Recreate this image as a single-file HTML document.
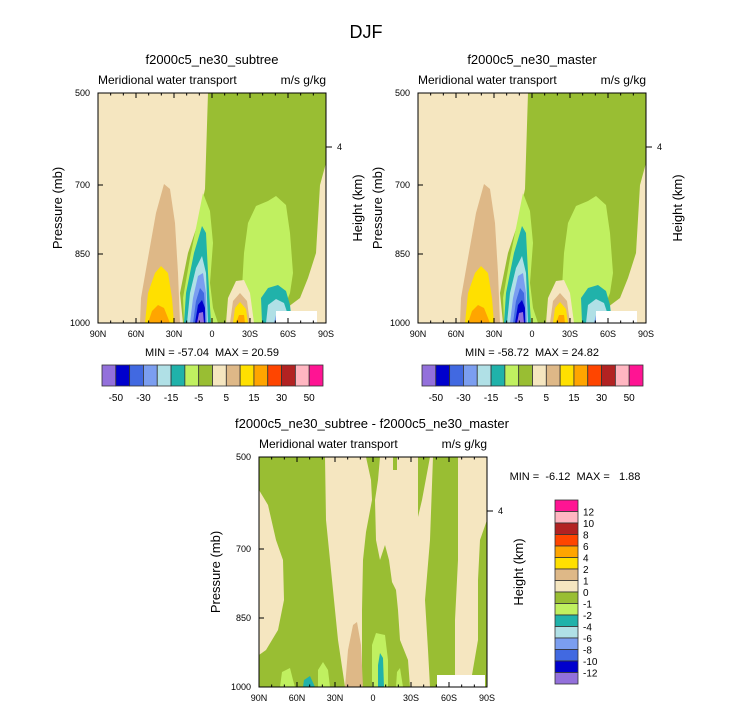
<!DOCTYPE html>
<html><head><meta charset="utf-8"><style>
html,body{margin:0;padding:0;background:#fff;}
svg{display:block;font-family:"Liberation Sans",Arial,sans-serif;}
</style></head><body>
<svg width="733" height="711" viewBox="0 0 733 711" xmlns="http://www.w3.org/2000/svg">
<defs>
<g id="top">
  <rect x="0" y="0" width="228" height="230" fill="#F5E6C0"/>
  <path d="M110,0 L228,0 L228,70 L222,92 L218,160 L210,185 L202,205 L190,214 L178,218 L178,230 L85,230 L82,200 L90,160 L100,130 L107,96 Z" fill="#99BE33"/>
  <path d="M105,100 L112,118 L115,150 L112,190 L115,215 L120,230 L86,230 L85,205 L92,165 L100,125 Z" fill="#C0F060"/>
  <path d="M150,130 L158,113 L170,108 L178,103 L188,112 L192,140 L195,180 L192,200 L186,215 L176,230 L148,230 L144,195 L146,160 Z" fill="#C0F060"/>
  <path d="M164,230 L163,205 L170,195 L180,192 L188,198 L192,212 L194,230 Z" fill="#20B2AA"/>
  <path d="M168,230 L170,212 L178,206 L186,210 L190,222 L190,230 Z" fill="#B0E0E6"/>
  <path d="M176,230 L178,222 L182,222 L182,230 Z" fill="#7B9EF0"/>
  <rect x="178" y="218" width="41" height="12" fill="#fff"/>
  <path d="M128,230 L130,205 L138,188 L146,187 L152,200 L156,230 Z" fill="#F5E6C0"/>
  <path d="M132,230 L135,208 L142,200 L149,208 L152,230 Z" fill="#DEB887"/>
  <path d="M135,230 L137,215 L142,209 L148,216 L150,230 Z" fill="#FFE000"/>
  <path d="M138,230 L141,222 L146,222 L147,230 Z" fill="#FFA500"/>
  <path d="M42,230 L43,205 L50,165 L58,120 L66,91 L72,96 L77,130 L80,180 L82,230 Z" fill="#DEB887"/>
  <path d="M47,230 L50,200 L57,180 L63,173 L70,180 L74,205 L76,230 Z" fill="#FFE000"/>
  <path d="M50,230 L54,218 L60,212 L66,215 L72,230 Z" fill="#FFA500"/>
  <path d="M86,230 L88,200 L96,160 L104,133 L108,140 L110,180 L113,230 Z" fill="#20B2AA"/>
  <path d="M89,230 L92,200 L98,175 L104,163 L108,180 L110,230 Z" fill="#B0E0E6"/>
  <path d="M92,230 L95,205 L100,183 L105,180 L108,200 L109,230 Z" fill="#7B9EF0"/>
  <path d="M95,230 L98,208 L102,195 L106,200 L108,230 Z" fill="#4169E1"/>
  <path d="M97,230 L100,212 L104,207 L107,215 L107,230 Z" fill="#0000CD"/>
  <path d="M99,230 L101,220 L105,219 L106,230 Z" fill="#9370DB"/>
  <rect x="0" y="0" width="228" height="230" fill="none" stroke="#000" stroke-width="1"/>
</g>
</defs>

<text x="366" y="38" font-size="18" text-anchor="middle">DJF</text>

<g transform="translate(98,93)"><use href="#top"/></g>
<g transform="translate(418,93)"><use href="#top"/></g>

<!-- bottom plot -->
<g>
  <rect x="259" y="457" width="228" height="230" fill="#99BE33"/>
  <path d="M259,490 L268,505 L276,540 L283,560 L284,600 L278,630 L266,650 L259,655 Z" fill="#F5E6C0"/>
  <path d="M325,457 L366,457 L371,480 L372,500 L366,532 L363,560 L362,610 L362,687 L345,687 L338,640 L330,560 L326,520 Z" fill="#F5E6C0"/>
  <path d="M380,457 L393,457 L393,470 L397,470 L397,457 L418,457 L418,517 L422,500 L430,457 L433,457 L430,540 L425,600 L428,650 L430,687 L410,687 L408,660 L400,640 L398,610 L396,590 L392,582 L389,560 L385,545 L380,560 L376,540 L375,500 L378,480 Z" fill="#F5E6C0"/>
  <path d="M458,457 L487,457 L487,520 L480,540 L478,580 L478,640 L472,675 L460,687 L455,687 L455,620 L458,560 Z" fill="#F5E6C0"/>
  <path d="M345,687 L348,650 L353,625 L357,622 L361,645 L363,687 Z" fill="#DEB887"/>
  <path d="M372,687 L372,645 L376,633 L385,635 L388,660 L388,687 Z" fill="#C0F060"/>
  <path d="M378,687 L378,665 L380,653 L383,658 L384,687 Z" fill="#20B2AA"/>
  <path d="M318,687 L318,670 L323,662 L328,670 L330,687 Z" fill="#C0F060"/>
  <path d="M303,687 L304,680 L310,676 L315,687 Z" fill="#20B2AA"/>
  <path d="M280,687 L282,672 L290,668 L293,680 L295,687 Z" fill="#C0F060"/>
  <path d="M396,687 L397,672 L400,668 L403,687 Z" fill="#C0F060"/>
  <rect x="437" y="675" width="48" height="12" fill="#fff"/>
  <rect x="259" y="457" width="228" height="230" fill="none" stroke="#000" stroke-width="1"/>
</g>

<g font-size="12" text-anchor="middle">
  <text x="212" y="64" font-size="13">f2000c5_ne30_subtree</text>
  <text x="532" y="64" font-size="13">f2000c5_ne30_master</text>
  <text x="372" y="428" font-size="13">f2000c5_ne30_subtree - f2000c5_ne30_master</text>
</g>
<g font-size="12">
  <text x="98" y="84">Meridional water transport</text>
  <text x="326" y="84" text-anchor="end">m/s g/kg</text>
  <text x="418" y="84">Meridional water transport</text>
  <text x="646" y="84" text-anchor="end">m/s g/kg</text>
  <text x="259" y="448">Meridional water transport</text>
  <text x="487" y="448" text-anchor="end">m/s g/kg</text>
</g>
<g font-size="13" text-anchor="middle">
  <text transform="translate(62,208) rotate(-90)">Pressure (mb)</text>
  <text transform="translate(362,208) rotate(-90)">Height (km)</text>
  <text transform="translate(382,208) rotate(-90)">Pressure (mb)</text>
  <text transform="translate(682,208) rotate(-90)">Height (km)</text>
  <text transform="translate(220,572) rotate(-90)">Pressure (mb)</text>
  <text transform="translate(523,572) rotate(-90)">Height (km)</text>
</g>

<g font-size="9" text-anchor="end">
  <text x="90" y="96">500</text><text x="90" y="188">700</text><text x="90" y="257">850</text><text x="90" y="326">1000</text>
  <text x="410" y="96">500</text><text x="410" y="188">700</text><text x="410" y="257">850</text><text x="410" y="326">1000</text>
  <text x="251" y="460">500</text><text x="251" y="552">700</text><text x="251" y="621">850</text><text x="251" y="690">1000</text>
</g>
<g font-size="9">
  <text x="337" y="150">4</text><text x="657" y="150">4</text><text x="498" y="514">4</text>
</g>
<g stroke="#000" stroke-width="1">
  <line x1="98" y1="185" x2="103" y2="185"/><line x1="98" y1="254" x2="103" y2="254"/>
  <line x1="418" y1="185" x2="423" y2="185"/><line x1="418" y1="254" x2="423" y2="254"/>
  <line x1="259" y1="549" x2="264" y2="549"/><line x1="259" y1="618" x2="264" y2="618"/>
  <line x1="326" y1="147" x2="332" y2="147"/><line x1="646" y1="147" x2="652" y2="147"/><line x1="487" y1="511" x2="493" y2="511"/>
</g>

<g id="xt" stroke="#000" stroke-width="1"></g>
<script>
(function(){
 var ns="http://www.w3.org/2000/svg",g=document.getElementById('xt');
 function ln(a,b,c,d){var l=document.createElementNS(ns,'line');l.setAttribute('x1',a);l.setAttribute('y1',b);l.setAttribute('x2',c);l.setAttribute('y2',d);g.appendChild(l);}
 function tx(x,y,s){var t=document.createElementNS(ns,'text');t.setAttribute('x',x);t.setAttribute('y',y);t.setAttribute('font-size','9');t.setAttribute('text-anchor','middle');t.setAttribute('stroke','none');t.textContent=s;g.appendChild(t);}
 var labs=['90N','60N','30N','0','30S','60S','90S'];
 [[98,93,228,230],[418,93,228,230],[259,457,228,230]].forEach(function(p){
  for(var i=0;i<=18;i++){var x=p[0]+p[2]*i/18,L=(i%3==0)?5:2.5;
    ln(x,p[1],x,p[1]+L);ln(x,p[1]+p[3],x,p[1]+p[3]-L);
    if(i%3==0)tx(x,p[1]+p[3]+14,labs[i/3]);}
 });
})();
</script>

<g font-size="11" text-anchor="middle">
  <text x="212" y="356">MIN = -57.04&#160;&#160;MAX = 20.59</text>
  <text x="532" y="356">MIN = -58.72&#160;&#160;MAX = 24.82</text>
  <text x="575" y="480">MIN =&#160;&#160;-6.12&#160;&#160;MAX =&#160;&#160;&#160;1.88</text>
</g>

<g id="cb"></g>
<script>
(function(){
 var ns="http://www.w3.org/2000/svg",g=document.getElementById('cb');
 var c=['#9370DB','#0000CD','#4169E1','#7B9EF0','#B0E0E6','#20B2AA','#C0F060','#99BE33','#F5E6C0','#DEB887','#FFE000','#FFA500','#FF4500','#B22222','#FFB6C1','#FF1493'];
 function r(x,y,w,h,f){var e=document.createElementNS(ns,'rect');e.setAttribute('x',x);e.setAttribute('y',y);e.setAttribute('width',w);e.setAttribute('height',h);e.setAttribute('fill',f);e.setAttribute('stroke','#333');e.setAttribute('stroke-width','0.8');g.appendChild(e);}
 function t(x,y,s,a){var e=document.createElementNS(ns,'text');e.setAttribute('x',x);e.setAttribute('y',y);e.setAttribute('font-size','10');e.setAttribute('text-anchor',a);e.textContent=s;g.appendChild(e);}
 var hl={1:'-50',3:'-30',5:'-15',7:'-5',9:'5',11:'15',13:'30',15:'50'};
 [102,422].forEach(function(x0){var w=221/16;
  for(var i=0;i<16;i++)r(x0+i*w,365,w,21,c[i]);
  for(var k in hl)t(x0+k*w,401,hl[k],'middle');});
 var vl=['12','10','8','6','4','2','1','0','-1','-2','-4','-6','-8','-10','-12'];
 var h=184/16;
 for(var i=0;i<16;i++)r(555,500+i*h,23,h,c[15-i]);
 for(var j=1;j<16;j++)t(583,500+j*h+4,vl[j-1],'start');
})();
</script>
</svg>
</body></html>
